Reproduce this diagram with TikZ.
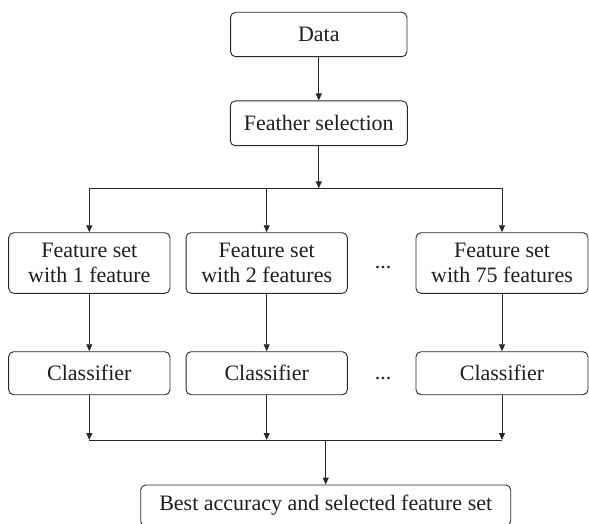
\documentclass[tikz,border=0pt]{standalone}
\usepackage{fontspec}
\setmainfont{Liberation Serif}
\usetikzlibrary{arrows.meta}
\definecolor{lnc}{RGB}{40,40,40}
\definecolor{txc}{RGB}{30,30,30}
\begin{document}
\begin{tikzpicture}[x=1pt,y=-1pt,
  box/.style={draw=lnc, line width=0.9pt, rounded corners=5pt, align=center,
    font=\fontsize{22}{25}\selectfont, inner sep=0pt, text=txc},
  arr/.style={draw=lnc, line width=0.9pt, -{Triangle[length=7pt,width=6pt]}},
  wire/.style={draw=lnc, line width=0.9pt},
  dots/.style={font=\fontsize{22}{25}\selectfont, inner sep=0pt, text=txc}]
\useasboundingbox (0,0) rectangle (589,524);
\clip (0,0) rectangle (589,524);
% top
\node[box, minimum width=176.3pt, minimum height=44.4pt] (data) at (318.8,34.5) {Data};
\node[box, minimum width=177pt, minimum height=44.7pt] (fs) at (318.8,123.3) {Feather selection};
% feature sets
\node[box, minimum width=161.3pt, minimum height=60.6pt] (f1) at (89.3,263) {Feature set\\with 1 feature};
\node[box, minimum width=161.3pt, minimum height=60.6pt] (f2) at (266.7,263) {Feature set\\with 2 features};
\node[box, minimum width=172pt, minimum height=60.6pt] (f3) at (502,263) {Feature set\\with 75 features};
\node[dots] (d1) at (383,268) {...};
% classifiers
\node[box, minimum width=161.3pt, minimum height=43pt] (c1) at (89.3,373.2) {Classifier};
\node[box, minimum width=161.3pt, minimum height=43pt] (c2) at (266.7,373.2) {Classifier};
\node[box, minimum width=172pt, minimum height=43pt] (c3) at (502,373.2) {Classifier};
\node[dots] (d2) at (383,379) {...};
% result
\node[box, minimum width=370pt, minimum height=41pt] (best) at (325.7,505.5) {Best accuracy and selected feature set};
% split coordinates
\coordinate (t) at (318.8,188.3);
\coordinate (tl) at (89.3,188.3);
\coordinate (tm) at (266.7,188.3);
\coordinate (tr) at (502,188.3);
\coordinate (bl) at (89.3,440);
\coordinate (bm) at (266.7,440);
\coordinate (br) at (502,440);
\coordinate (bc) at (325.7,440);
% connectors
\draw[arr] (data) -- (fs);
\draw[arr] (fs) -- (t);
\draw[wire] (tl) -- (tr);
\draw[arr] (tl) -- (f1);
\draw[arr] (tm) -- (f2);
\draw[arr] (tr) -- (f3);
\draw[arr] (f1) -- (c1);
\draw[arr] (f2) -- (c2);
\draw[arr] (f3) -- (c3);
\draw[arr] (c1) -- (bl);
\draw[arr] (c2) -- (bm);
\draw[arr] (c3) -- (br);
\draw[wire] (bl) -- (br);
\draw[arr] (bc) -- (best);
\end{tikzpicture}
\end{document}
